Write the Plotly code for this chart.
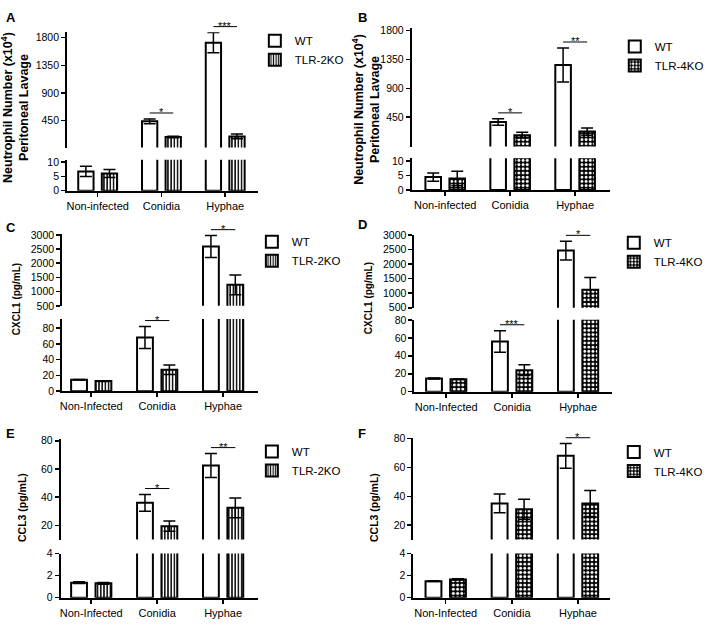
import plotly.graph_objects as go

W, H = 709, 625
FONT = "Liberation Sans, Arial, sans-serif"

# ---------------- data ----------------
cats_inf = ["Non-infected", "Conidia", "Hyphae"]
cats_Inf = ["Non-Infected", "Conidia", "Hyphae"]

# A: neutrophils (x10^4), WT vs TLR-2KO
A_wt = [6.7, 440, 1720]
A_wt_err = [1.8, 40, 165]
A_ko = [6.0, 185, 195]
A_ko_err = [1.4, 12, 40]
A_sig = [(1, "*"), (2, "***")]

# B: neutrophils (x10^4), WT vs TLR-4KO
B_wt = [4.5, 375, 1265]
B_wt_err = [1.4, 50, 265]
B_ko = [4.0, 170, 225]
B_ko_err = [2.5, 45, 55]
B_sig = [(1, "*"), (2, "**")]

# C: CXCL1 (pg/mL), WT vs TLR-2KO
C_wt = [14.5, 68, 2590]
C_wt_err = [0.4, 14, 385]
C_ko = [12.8, 27, 1240]
C_ko_err = [0.4, 6, 350]
C_sig = [(1, "*"), (2, "*")]

# D: CXCL1 (pg/mL), WT vs TLR-4KO
D_wt = [14.8, 56, 2460]
D_wt_err = [0.5, 12, 320]
D_ko = [13.8, 24, 1120]
D_ko_err = [0.3, 6, 420]
D_sig = [(1, "***"), (2, "*")]

# E: CCL3 (pg/mL), WT vs TLR-2KO
E_wt = [1.36, 36, 62.5]
E_wt_err = [0.08, 6, 8.5]
E_ko = [1.3, 19.5, 32.5]
E_ko_err = [0.08, 3.6, 7]
E_sig = [(1, "*"), (2, "**")]

# F: CCL3 (pg/mL), WT vs TLR-4KO
F_wt = [1.5, 35, 68]
F_wt_err = [0.04, 6.5, 8.5]
F_ko = [1.66, 31, 35]
F_ko_err = [0.05, 7, 9]
F_sig = [(2, "*")]

neut_upper_ticks = [450, 900, 1350, 1800]
neut_lower_ticks = [0, 5, 10]
cxcl_upper_ticks = [500, 1000, 1500, 2000, 2500, 3000]
cxcl_lower_ticks = [0, 20, 40, 60, 80]
ccl_upper_ticks = [20, 40, 60, 80]
ccl_lower_ticks = [0, 2, 4]

# ---------------- styles ----------------
STRIPE = dict(shape="|", size=3.2, solidity=0.45, fgcolor="black", bgcolor="white", fillmode="replace")
CHECK = dict(shape=".", size=4.2, solidity=0.4, fgcolor="white", bgcolor="black", fillmode="replace")

NEUT_TITLE = "Neutrophil Number (x10<sup>4</sup>)<br>Peritoneal Lavage"

panels = [
    dict(letter="A", cats=cats_inf, wt=A_wt, wte=A_wt_err, ko=A_ko, koe=A_ko_err, ko_name="TLR-2KO",
         pat=STRIPE, sig=A_sig, title=NEUT_TITLE, ut=neut_upper_ticks, lt=neut_lower_ticks,
         g=dict(xl=65.7, xr=258, c0=96.5, sp=64.3, up=(26.7, 144.3), ur=(14, 1890),
                lo=(156.7, 188.3), lr=(0, 10.8), leg=(295, 45), tt=(13, 103), ts=12.5, lab=(2, 2))),
    dict(letter="B", cats=cats_inf, wt=B_wt, wte=B_wt_err, ko=B_ko, koe=B_ko_err, ko_name="TLR-4KO",
         pat=CHECK, sig=B_sig, title=NEUT_TITLE, ut=neut_upper_ticks, lt=neut_lower_ticks,
         g=dict(xl=413.3, xr=613.3, c0=447, sp=65.5, up=(22.7, 143.3), ur=(-8, 1836),
                lo=(155.3, 187.7), lr=(0, 11), leg=(658, 51), tt=(368, 105), ts=12.5, lab=(357, 2))),
    dict(letter="C", cats=cats_Inf, wt=C_wt, wte=C_wt_err, ko=C_ko, koe=C_ko_err, ko_name="TLR-2KO",
         pat=STRIPE, sig=C_sig, title="CXCL1 (pg/mL)", ut=cxcl_upper_ticks, lt=cxcl_lower_ticks,
         g=dict(xl=60.7, xr=258, c0=90, sp=66.5, up=(232.3, 305.7), ur=(500, 3035),
                lo=(319, 392.7), lr=(0, 91.6), leg=(292, 250), tt=(14, 299), ts=10, lab=(2, 216))),
    dict(letter="D", cats=cats_Inf, wt=D_wt, wte=D_wt_err, ko=D_ko, koe=D_ko_err, ko_name="TLR-4KO",
         pat=CHECK, sig=D_sig, title="CXCL1 (pg/mL)", ut=cxcl_upper_ticks, lt=cxcl_lower_ticks,
         g=dict(xl=416, xr=615, c0=448, sp=66.5, up=(233.3, 307.7), ur=(500, 3000),
                lo=(320, 393.3), lr=(0, 80), leg=(657, 251), tt=(369, 298), ts=10, lab=(357, 213))),
    dict(letter="E", cats=cats_Inf, wt=E_wt, wte=E_wt_err, ko=E_ko, koe=E_ko_err, ko_name="TLR-2KO",
         pat=STRIPE, sig=E_sig, title="CCL3 (pg/mL)", ut=ccl_upper_ticks, lt=ccl_lower_ticks,
         g=dict(xl=59.3, xr=258, c0=90, sp=66.5, up=(441, 544), ur=(10, 81.6),
                lo=(558.3, 603.3), lr=(0, 4), leg=(292, 464), tt=(20, 511), ts=10.5, lab=(2, 426))),
    dict(letter="F", cats=cats_Inf, wt=F_wt, wte=F_wt_err, ko=F_ko, koe=F_ko_err, ko_name="TLR-4KO",
         pat=CHECK, sig=F_sig, title="CCL3 (pg/mL)", ut=ccl_upper_ticks, lt=ccl_lower_ticks,
         g=dict(xl=415, xr=613, c0=447.5, sp=66.7, up=(440, 544), ur=(10, 80.7),
                lo=(558.3, 603.3), lr=(0, 4), leg=(657, 464.5), tt=(375, 511), ts=10.5, lab=(357, 426))),
]

BAR_W = 0.24
WT_OFF = -0.305
KO_OFF = 0.065


def px_x(px):
    return px / W


def px_y(py):
    return 1 - py / H


def val_to_py(g, v):
    lo, hi = g["ur"]
    if v > g["lr"][1]:
        t, b = g["up"]
    else:
        lo, hi = g["lr"]
        t, b = g["lo"]
    return t + (hi - v) / (hi - lo) * (b - t)


fig = go.Figure()
layout = dict(
    width=W, height=H, margin=dict(l=0, r=0, t=0, b=0),
    paper_bgcolor="white", plot_bgcolor="white", hovermode=False,
    barmode="overlay", font=dict(family=FONT, color="black", size=10),
)
shapes = []
annotations = []

axis_common = dict(showgrid=False, zeroline=False, fixedrange=True, linecolor="black",
                   linewidth=2, ticks="outside", ticklen=4, tickwidth=1.5, tickcolor="black",
                   tickfont=dict(family=FONT, size=10.5, color="black"))

for k, p in enumerate(panels):
    g = p["g"]
    iu, il = 2 * k + 1, 2 * k + 2
    xr0 = (g["xl"] - g["c0"]) / g["sp"]
    xr1 = (g["xr"] - g["c0"]) / g["sp"]
    xdom = [px_x(g["xl"]), px_x(g["xr"])]
    legname = "legend" if k == 0 else f"legend{k + 1}"

    # upper segment: bars start well below the visible range so their base edge is hidden;
    # values that belong to the lower segment are not drawn there
    ulo, uhi = g["ur"]
    ubase = ulo - 0.25 * (uhi - ulo)
    lower_top = g["lr"][1]

    for idx, upper in ((iu, True), (il, False)):
        xa = "x" if idx == 1 else f"x{idx}"
        ya = "y" if idx == 1 else f"y{idx}"
        for vals, errs, name, off, marker in (
            (p["wt"], p["wte"], "WT", WT_OFF, dict(color="white", line=dict(color="black", width=2))),
            (p["ko"], p["koe"], p["ko_name"], KO_OFF,
             dict(color="white", pattern=p["pat"], line=dict(color="black", width=2))),
        ):
            if upper:
                yv = [(v - ubase) if v > lower_top else None for v in vals]
                base = ubase
            else:
                yv = list(vals)
                base = None
            fig.add_trace(go.Bar(
                x=p["cats"], y=yv, base=base, name=name, xaxis=xa, yaxis=ya,
                width=BAR_W, offset=off, marker=marker,
                error_y=dict(type="data", array=errs, visible=True, color="black", thickness=1.5, width=6),
                legend=legname, showlegend=upper, hoverinfo="skip",
            ))

    sx_u = "xaxis" if iu == 1 else f"xaxis{iu}"
    sy_u = "yaxis" if iu == 1 else f"yaxis{iu}"
    layout[sx_u] = dict(domain=xdom, range=[xr0, xr1], type="category", visible=False,
                        anchor="y" if iu == 1 else f"y{iu}", fixedrange=True)
    layout[sy_u] = dict(axis_common, domain=[px_y(g["up"][1]), px_y(g["up"][0])], range=list(g["ur"]),
                        tickvals=p["ut"], anchor="x" if iu == 1 else f"x{iu}")
    layout[f"xaxis{il}"] = dict(axis_common, domain=xdom, range=[xr0, xr1], type="category",
                                anchor=f"y{il}", tickfont=dict(family=FONT, size=11, color="black"))
    layout[f"yaxis{il}"] = dict(axis_common, domain=[px_y(g["lo"][1]), px_y(g["lo"][0])], range=list(g["lr"]),
                                tickvals=p["lt"], anchor=f"x{il}")

    layout[legname] = dict(x=px_x(g["leg"][0] - 40), y=px_y(g["leg"][1]), xanchor="left", yanchor="middle",
                           bgcolor="rgba(0,0,0,0)", borderwidth=0, tracegroupgap=0,
                           font=dict(family=FONT, size=11.5, color="black"))

    # significance brackets
    for ci, stars in p["sig"]:
        top = max(p["wt"][ci] + p["wte"][ci], p["ko"][ci] + p["koe"][ci])
        by = val_to_py(g, top) - 6
        xa_px = g["c0"] + g["sp"] * (ci + WT_OFF + BAR_W / 2)
        xb_px = g["c0"] + g["sp"] * (ci + KO_OFF + BAR_W / 2)
        shapes.append(dict(type="line", xref="paper", yref="paper", x0=px_x(xa_px), x1=px_x(xb_px),
                           y0=px_y(by), y1=px_y(by), layer="above", line=dict(color="#000000", width=1)))
        annotations.append(dict(text=stars, xref="paper", yref="paper", x=px_x((xa_px + xb_px) / 2),
                                y=px_y(by - 1), xanchor="center", yanchor="middle", showarrow=False,
                                font=dict(family=FONT, size=11, color="#000000")))

    # axis title
    annotations.append(dict(text="<b>" + p["title"].replace("<br>", "</b><br><b>") + "</b>",
                            xref="paper", yref="paper", x=px_x(g["tt"][0]), y=px_y(g["tt"][1]),
                            xanchor="center", yanchor="middle", textangle=-90, showarrow=False,
                            font=dict(family=FONT, size=g["ts"], color="black")))
    # panel letter
    annotations.append(dict(text="<b>" + p["letter"] + "</b>", xref="paper", yref="paper",
                            x=px_x(g["lab"][0]), y=px_y(g["lab"][1]), xanchor="left", yanchor="top",
                            showarrow=False, font=dict(family=FONT, size=13, color="black")))

layout["shapes"] = shapes
layout["annotations"] = annotations
fig.update_layout(**layout)
fig.write_html("out.html", config={"displayModeBar": False, "staticPlot": True},
               post_script="document.body.style.margin='0px';")
